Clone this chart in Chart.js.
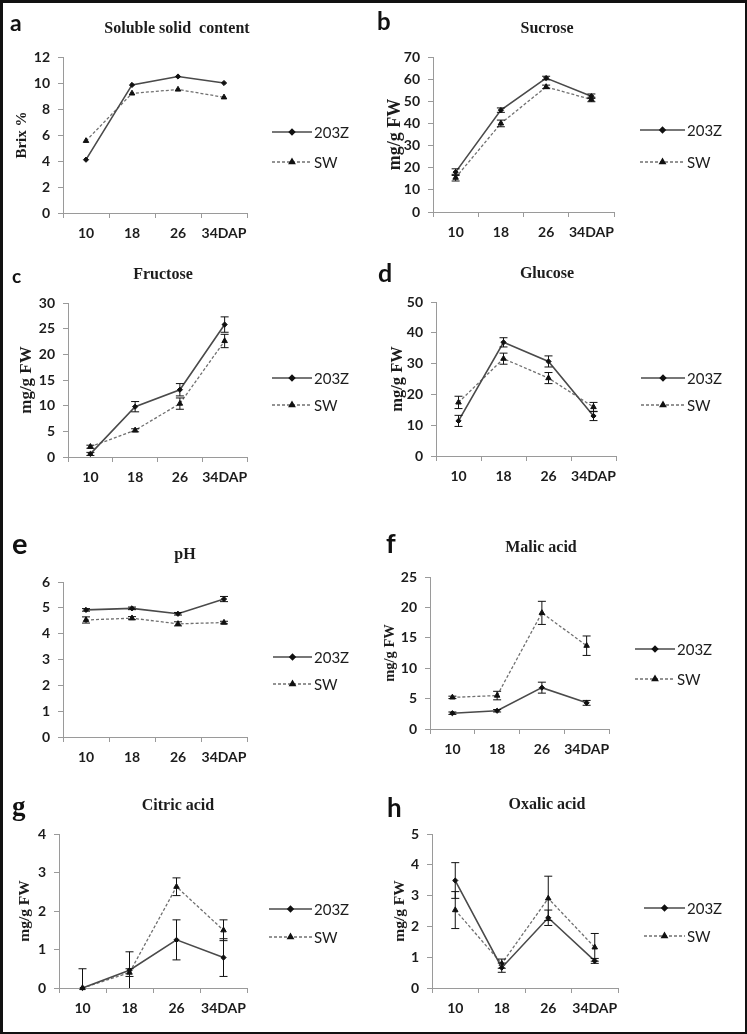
<!DOCTYPE html>
<html>
<head>
<meta charset="utf-8">
<script src="https://cdn.jsdelivr.net/npm/chart.js@4.4.1/dist/chart.umd.min.js"></script>
<style>
  html, body { margin: 0; padding: 0; background: #fff; }
  #page { position: relative; width: 747px; height: 1034px; overflow: hidden; background: #fff; }
  #page canvas { position: absolute; }
  #frame { position: absolute; left: 0; top: 0; width: 747px; height: 1034px; box-sizing: border-box;
    border-style: solid; border-color: #111; border-width: 3px 2px 2px 3px; pointer-events: none; }
</style>
</head>
<body>
<div id="page">
  <div id="frame"></div>
</div>
<script>
// x categories (days after pollination)
const days = ['10', '18', '26', '34DAP'];

// a - soluble solid content (Brix %)
const brix203Z = [4.1, 9.85, 10.5, 10.0];
const brixSW = [5.55, 9.2, 9.5, 8.9];
const brixErr203Z = [0, 0, 0, 0];
const brixErrSW = [0, 0, 0, 0];

// b - sucrose (mg/g FW)
const suc203Z = [18, 46, 60.5, 52.3];
const sucSW = [15.5, 40, 56.5, 50.8];
const sucErr203Z = [1.5, 1, 0.8, 1];
const sucErrSW = [1.5, 1.5, 0.8, 1];

// c - fructose
const fru203Z = [0.6, 9.8, 13.1, 25.8];
const fruSW = [2, 5.2, 10.4, 22.6];
const fruErr203Z = [0.3, 1, 1.2, 1.5];
const fruErrSW = [0.3, 0.3, 1.1, 1.3];

// d - glucose
const glu203Z = [11.4, 36.9, 30.7, 13.0];
const gluSW = [17.4, 31.6, 25.3, 15.9];
const gluErr203Z = [1.8, 1.5, 1.8, 1.5];
const gluErrSW = [2, 1.8, 1.8, 1.5];

// e - pH
const ph203Z = [4.92, 4.98, 4.77, 5.34];
const phSW = [4.53, 4.6, 4.38, 4.43];
const phErr203Z = [0.05, 0.05, 0.05, 0.1];
const phErrSW = [0.12, 0.06, 0.08, 0.05];

// f - malic acid
const mal203Z = [2.6, 3.0, 6.8, 4.3];
const malSW = [5.2, 5.5, 19.1, 13.7];
const malErr203Z = [0.2, 0.2, 0.9, 0.4];
const malErrSW = [0.2, 0.7, 1.9, 1.6];

// g - citric acid
const cit203Z = [0, 0.46, 1.25, 0.79];
const citSW = [0, 0.4, 2.63, 1.5];
const citErr203Z = [0.5, 0.48, 0.52, 0.49];
const citErrSW = [0, 0.1, 0.23, 0.27];

// h - oxalic acid
const oxa203Z = [3.49, 0.66, 2.28, 0.88];
const oxaSW = [2.53, 0.79, 2.91, 1.32];
const oxaErr203Z = [0.58, 0.15, 0.25, 0.08];
const oxaErrSW = [0.6, 0.15, 0.72, 0.45];

const seriesNames = ['203Z', 'SW'];

const sansFont = 'Lato, "Liberation Sans", sans-serif';
const serifFont = '"Liberation Serif", "DejaVu Serif", serif';
const axisColor = '#9a9a9a';
const textColor = '#1c1c1c';

// error bars drawn through the y scale
const errorBars = {
  id: 'errorBars',
  afterDatasetsDraw(chart) {
    const ctx = chart.ctx;
    const y = chart.scales.y;
    const area = chart.chartArea;
    ctx.save();
    ctx.beginPath();
    ctx.rect(area.left - 10, area.top - 10, area.right - area.left + 20, area.bottom - area.top + 10);
    ctx.clip();
    ctx.strokeStyle = '#111';
    ctx.lineWidth = 1;
    ctx.setLineDash([]);
    chart.data.datasets.forEach((ds, i) => {
      const meta = chart.getDatasetMeta(i);
      (ds.errors || []).forEach((e, j) => {
        if (!e) return;
        const px = meta.data[j].x;
        const hi = y.getPixelForValue(ds.data[j] + e);
        const lo = y.getPixelForValue(ds.data[j] - e);
        ctx.beginPath();
        ctx.moveTo(px, hi); ctx.lineTo(px, lo);
        ctx.moveTo(px - 4, hi); ctx.lineTo(px + 4, hi);
        ctx.moveTo(px - 4, lo); ctx.lineTo(px + 4, lo);
        ctx.stroke();
      });
    });
    ctx.restore();
  }
};

// panel letter, title and the legend at the right
const panelDecor = {
  id: 'panelDecor',
  afterDraw(chart, args, opts) {
    const ctx = chart.ctx;
    ctx.save();
    ctx.fillStyle = '#111';
    ctx.textBaseline = 'alphabetic';
    ctx.textAlign = 'left';
    ctx.font = opts.letterFont;
    ctx.fillText(opts.letter, opts.letterX, opts.letterY);

    ctx.font = 'bold 16px ' + serifFont;
    ctx.textAlign = 'center';
    ctx.textBaseline = 'middle';
    ctx.fillStyle = textColor;
    ctx.fillText(opts.title, opts.titleX, opts.titleY);

    const lg = opts.legend;
    chart.data.datasets.forEach((ds, i) => {
      const ly = lg.ys[i];
      ctx.strokeStyle = ds.borderColor;
      ctx.lineWidth = ds.borderWidth;
      ctx.setLineDash(ds.borderDash || []);
      ctx.beginPath();
      ctx.moveTo(lg.x0, ly);
      ctx.lineTo(lg.x1, ly);
      ctx.stroke();
      ctx.setLineDash([]);
      ctx.fillStyle = ds.pointBackgroundColor;
      ctx.strokeStyle = ds.pointBorderColor;
      Chart.helpers.drawPoint(ctx, { pointStyle: ds.pointStyle, radius: ds.pointRadius, borderWidth: 1, rotation: 0 },
        (lg.x0 + lg.x1) / 2, ly);
      ctx.fillStyle = textColor;
      ctx.font = '15px ' + sansFont;
      ctx.textAlign = 'left';
      ctx.textBaseline = 'middle';
      ctx.fillText(ds.label, lg.x1 + 2, ly + 1);
    });
    ctx.restore();
  }
};

// cell = [left, top, width]; area = [x0, x1, top, y0] relative to the cell
const panels = [
  { cell: [0, 0, 373], letter: 'a', letterFont: 'bold 23px ' + sansFont, letterX: 10, letterY: 31,
    title: 'Soluble solid  content', titleX: 177, titleY: 29, yTitle: 'Brix %', yTitleX: 22, yTitleSize: 15,
    yMax: 12, yStep: 2, area: [63, 247, 57, 213], legend: { x0: 272, x1: 312, ys: [132, 162] },
    series: [brix203Z, brixSW], errors: [brixErr203Z, brixErrSW] },
  { cell: [373, 0, 374], letter: 'b', letterFont: 'bold 24px ' + sansFont, letterX: 4, letterY: 30,
    title: 'Sucrose', titleX: 174, titleY: 29, yTitle: 'mg/g FW', yTitleX: 22, yTitleSize: 18,
    yMax: 70, yStep: 10, area: [60, 241, 57, 212], legend: { x0: 267, x1: 312, ys: [130, 162] },
    series: [suc203Z, sucSW], errors: [sucErr203Z, sucErrSW] },
  { cell: [0, 250, 373], letter: 'c', letterFont: 'bold 19px ' + sansFont, letterX: 12, letterY: 33,
    title: 'Fructose', titleX: 163, titleY: 25, yTitle: 'mg/g FW', yTitleX: 27, yTitleSize: 17,
    yMax: 30, yStep: 5, area: [68, 247, 53, 207], legend: { x0: 272, x1: 312, ys: [128, 155] },
    series: [fru203Z, fruSW], errors: [fruErr203Z, fruErrSW] },
  { cell: [373, 250, 374], letter: 'd', letterFont: 'bold 25px ' + sansFont, letterX: 5, letterY: 32,
    title: 'Glucose', titleX: 174, titleY: 24, yTitle: 'mg/g FW', yTitleX: 25, yTitleSize: 16.5,
    yMax: 50, yStep: 10, area: [63, 243, 52, 206], legend: { x0: 268, x1: 312, ys: [128, 155] },
    series: [glu203Z, gluSW], errors: [gluErr203Z, gluErrSW] },
  { cell: [0, 480, 373], letter: 'e', letterFont: 'bold 29px ' + sansFont, letterX: 12, letterY: 74,
    title: 'pH', titleX: 185, titleY: 75, yTitle: '', yTitleX: 0, yTitleSize: 0,
    yMax: 6, yStep: 1, area: [63, 247, 102, 257], legend: { x0: 273, x1: 312, ys: [177, 204] },
    series: [ph203Z, phSW], errors: [phErr203Z, phErrSW] },
  { cell: [373, 480, 374], letter: 'f', letterFont: 'bold 27px ' + sansFont, letterX: 13, letterY: 73,
    title: 'Malic acid', titleX: 168, titleY: 68, yTitle: 'mg/g FW', yTitleX: 17, yTitleSize: 14.5,
    yMax: 25, yStep: 5, area: [57, 236, 97, 249], legend: { x0: 262, x1: 302, ys: [169, 199] },
    series: [mal203Z, malSW], errors: [malErr203Z, malErrSW] },
  { cell: [0, 750, 373], letter: 'g', letterFont: 'bold 27px ' + serifFont, letterX: 12, letterY: 65,
    title: 'Citric acid', titleX: 178, titleY: 56, yTitle: 'mg/g FW', yTitleX: 25, yTitleSize: 15.5,
    yMax: 4, yStep: 1, area: [59, 247, 84, 238], legend: { x0: 269, x1: 312, ys: [159, 187] },
    series: [cit203Z, citSW], errors: [citErr203Z, citErrSW] },
  { cell: [373, 750, 374], letter: 'h', letterFont: 'bold 26px ' + sansFont, letterX: 14, letterY: 67,
    title: 'Oxalic acid', titleX: 174, titleY: 55, yTitle: 'mg/g FW', yTitleX: 27, yTitleSize: 15.5,
    yMax: 5, yStep: 1, area: [59, 245, 84, 238], legend: { x0: 271, x1: 312, ys: [158, 186] },
    series: [oxa203Z, oxaSW], errors: [oxaErr203Z, oxaErrSW] }
];

const page = document.getElementById('page');
const frame = document.getElementById('frame');

function makePanel(p) {
  const [x0, x1, top, y0] = p.area;
  const xHeight = 30;
  const below = 8;

  const cv = document.createElement('canvas');
  cv.width = p.cell[2];
  cv.height = y0 + xHeight + below;
  cv.style.left = p.cell[0] + 'px';
  cv.style.top = p.cell[1] + 'px';
  page.insertBefore(cv, frame);

  const hasTitle = p.yTitle !== '';
  const yLeft = hasTitle ? p.yTitleX - p.yTitleSize * 0.6 : x0 - 40;
  const yWidth = x0 - yLeft;

  const datasets = [
    { label: seriesNames[0], data: p.series[0], errors: p.errors[0],
      borderColor: '#4a4a4a', borderWidth: 1.6, pointStyle: 'rectRot', pointRadius: 2.6,
      pointBackgroundColor: '#111', pointBorderColor: '#111', pointBorderWidth: 1, clip: false },
    { label: seriesNames[1], data: p.series[1], errors: p.errors[1],
      borderColor: '#707070', borderWidth: 1.3, borderDash: [3, 2], pointStyle: 'triangle', pointRadius: 3.2,
      pointBackgroundColor: '#111', pointBorderColor: '#111', pointBorderWidth: 1, clip: false }
  ];

  new Chart(cv, {
    type: 'line',
    data: { labels: days, datasets: datasets },
    options: {
      responsive: false,
      animation: false,
      layout: { padding: { left: yLeft, top: top, right: p.cell[2] - x1, bottom: below } },
      plugins: {
        legend: { display: false },
        tooltip: { enabled: false },
        panelDecor: { letter: p.letter, letterFont: p.letterFont, letterX: p.letterX, letterY: p.letterY,
          title: p.title, titleX: p.titleX, titleY: p.titleY, legend: p.legend }
      },
      scales: {
        x: {
          offset: true,
          grid: { offset: true, drawOnChartArea: false, tickLength: 5, color: axisColor },
          border: { color: axisColor, width: 1 },
          ticks: { font: { family: sansFont, size: 14, weight: 'bold' }, color: textColor, padding: 7,
            maxRotation: 0, autoSkip: false },
          afterFit: s => { s.height = xHeight; }
        },
        y: {
          min: 0,
          max: p.yMax,
          grid: { drawOnChartArea: false, tickLength: 5, color: axisColor },
          border: { color: axisColor, width: 1 },
          ticks: { stepSize: p.yStep, font: { family: sansFont, size: 14, weight: 'bold' }, color: textColor, padding: 8 },
          title: { display: hasTitle, text: p.yTitle, color: textColor, padding: 0,
            font: { family: serifFont, size: p.yTitleSize || 12, weight: 'bold' } },
          afterFit: s => { s.width = yWidth; }
        }
      }
    },
    plugins: [errorBars, panelDecor]
  });
}

panels.forEach(makePanel);
</script>
</body>
</html>
